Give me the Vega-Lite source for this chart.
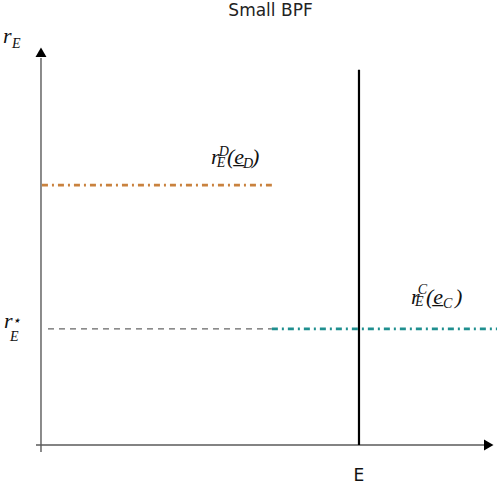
{
  "$schema": "https://vega.github.io/schema/vega-lite/v6.json",
  "width": 497,
  "height": 454,
  "autosize": "none",
  "padding": {"top": 30, "left": 0, "right": 0, "bottom": 0},
  "background": "white",
  "title": {"text": "Small BPF", "font": "DejaVu Sans", "fontSize": 17, "fontWeight": "normal", "color": "#222", "anchor": "middle", "offset": 5, "dx": 22},
  "config": {"view": {"stroke": null}},
  "datasets": {
    "segments": [
      {"kind": "axis", "x": -1.57, "x2": 140.5, "y": 0, "y2": 0},
      {"kind": "axis", "x": 0, "x2": 0, "y": -1.77, "y2": 98},
      {"kind": "E", "x": 100, "x2": 100, "y": 0, "y2": 95},
      {"kind": "D", "x": 0.3, "x2": 72.6, "y": 65.8, "y2": 65.8},
      {"kind": "star", "x": 2.2, "x2": 72.6, "y": 29.4, "y2": 29.4},
      {"kind": "C", "x": 72.6, "x2": 143.4, "y": 29.4, "y2": 29.4}
    ],
    "arrows": [
      {"dir": "up", "x": 0, "y": 99.4},
      {"dir": "right", "x": 140.8, "y": 0}
    ],
    "labels": [
      {"role": "main", "t": "r", "x": -11.95, "y": 101.8},
      {"role": "sub", "t": "E", "x": -9.12, "y": 100.5},
      {"role": "main", "t": "r", "x": 53.46, "y": 71.14},
      {"role": "sup", "t": "D", "x": 55.9, "y": 73.16},
      {"role": "sub", "t": "E", "x": 55.3, "y": 70.38},
      {"role": "main", "t": "(e̲", "x": 58.49, "y": 71.14},
      {"role": "sub", "t": "D", "x": 63.52, "y": 70.13},
      {"role": "main", "t": ")", "x": 66.35, "y": 71.14},
      {"role": "main", "t": "r", "x": 116.35, "y": 35.7},
      {"role": "sup", "t": "C", "x": 118.5, "y": 38.23},
      {"role": "sub", "t": "E", "x": 117.6, "y": 35.19},
      {"role": "main", "t": "(e̲", "x": 121.07, "y": 35.7},
      {"role": "sub", "t": "C", "x": 126.42, "y": 34.68},
      {"role": "main", "t": ")", "x": 130.19, "y": 35.7},
      {"role": "main", "t": "r", "x": -11.64, "y": 29.62},
      {"role": "sup", "t": "⋆", "x": -9.12, "y": 30.38},
      {"role": "sub", "t": "E", "x": -9.75, "y": 26.33}
    ],
    "ticks": [
      {"t": "E", "x": 100, "y": -9.1}
    ]
  },
  "layer": [
    {
      "data": {"name": "segments"},
      "transform": [{"filter": "datum.kind === 'axis'"}],
      "mark": {"type": "rule", "color": "#5a5a5a", "strokeWidth": 1.4},
      "encoding": {
        "x": {"field": "x", "type": "quantitative", "scale": {"domain": [-12.89, 143.4], "nice": false, "zero": false}, "axis": null},
        "x2": {"field": "x2"},
        "y": {"field": "y", "type": "quantitative", "scale": {"domain": [-9.87, 105.06], "nice": false, "zero": false}, "axis": null},
        "y2": {"field": "y2"}
      }
    },
    {
      "data": {"name": "segments"},
      "transform": [{"filter": "datum.kind === 'E'"}],
      "mark": {"type": "rule", "color": "#000000", "strokeWidth": 2.2},
      "encoding": {
        "x": {"field": "x", "type": "quantitative"},
        "x2": {"field": "x2"},
        "y": {"field": "y", "type": "quantitative"},
        "y2": {"field": "y2"}
      }
    },
    {
      "data": {"name": "segments"},
      "transform": [{"filter": "datum.kind === 'D'"}],
      "mark": {"type": "rule", "color": "#c9823e", "strokeWidth": 2.6, "strokeDash": [6, 4, 2, 4]},
      "encoding": {
        "x": {"field": "x", "type": "quantitative"},
        "x2": {"field": "x2"},
        "y": {"field": "y", "type": "quantitative"},
        "y2": {"field": "y2"}
      }
    },
    {
      "data": {"name": "segments"},
      "transform": [{"filter": "datum.kind === 'star'"}],
      "mark": {"type": "rule", "color": "#666666", "strokeWidth": 1.1, "strokeDash": [6, 5]},
      "encoding": {
        "x": {"field": "x", "type": "quantitative"},
        "x2": {"field": "x2"},
        "y": {"field": "y", "type": "quantitative"},
        "y2": {"field": "y2"}
      }
    },
    {
      "data": {"name": "segments"},
      "transform": [{"filter": "datum.kind === 'C'"}],
      "mark": {"type": "rule", "color": "#1f8f8f", "strokeWidth": 2.6, "strokeDash": [6, 4, 2, 4]},
      "encoding": {
        "x": {"field": "x", "type": "quantitative"},
        "x2": {"field": "x2"},
        "y": {"field": "y", "type": "quantitative"},
        "y2": {"field": "y2"}
      }
    },
    {
      "data": {"name": "arrows"},
      "mark": {"type": "point", "filled": true, "color": "#000", "opacity": 1, "size": 120},
      "encoding": {
        "x": {"field": "x", "type": "quantitative"},
        "y": {"field": "y", "type": "quantitative"},
        "shape": {"field": "dir", "type": "nominal", "legend": null, "scale": {"domain": ["up", "right"], "range": ["triangle-up", "triangle-right"]}}
      }
    },
    {
      "data": {"name": "labels"},
      "transform": [{"filter": "datum.role === 'main'"}],
      "mark": {"type": "text", "font": "Liberation Serif", "fontStyle": "italic", "fontSize": 22, "align": "left", "baseline": "alphabetic", "color": "#111"},
      "encoding": {
        "x": {"field": "x", "type": "quantitative"},
        "y": {"field": "y", "type": "quantitative"},
        "text": {"field": "t"}
      }
    },
    {
      "data": {"name": "labels"},
      "transform": [{"filter": "datum.role !== 'main'"}],
      "mark": {"type": "text", "font": "Liberation Serif", "fontStyle": "italic", "fontSize": 14, "align": "left", "baseline": "alphabetic", "color": "#111"},
      "encoding": {
        "x": {"field": "x", "type": "quantitative"},
        "y": {"field": "y", "type": "quantitative"},
        "text": {"field": "t"}
      }
    },
    {
      "data": {"name": "ticks"},
      "mark": {"type": "text", "font": "DejaVu Sans", "fontSize": 17, "align": "center", "baseline": "alphabetic", "color": "#111"},
      "encoding": {
        "x": {"field": "x", "type": "quantitative"},
        "y": {"field": "y", "type": "quantitative"},
        "text": {"field": "t"}
      }
    }
  ]
}
